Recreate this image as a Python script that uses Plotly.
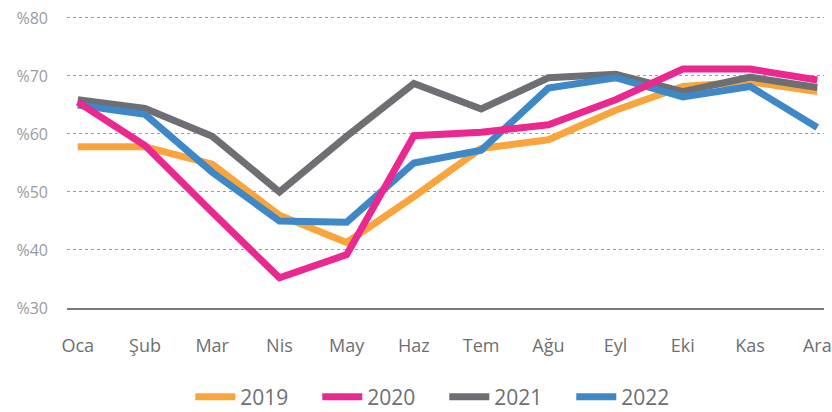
import plotly.graph_objects as go

months = ["Oca", "Şub", "Mar", "Nis", "May", "Haz", "Tem", "Ağu", "Eyl", "Eki", "Kas", "Ara"]
y2019 = [57.8, 57.8, 54.8, 46.0, 41.3, 49.2, 57.5, 59.0, 64.1, 68.2, 69.0, 67.3]
y2020 = [65.5, 58.0, 46.5, 35.2, 39.2, 59.7, 60.3, 61.6, 65.9, 71.2, 71.2, 69.3]
y2021 = [65.9, 64.4, 59.6, 50.0, 59.6, 68.7, 64.3, 69.7, 70.3, 67.3, 69.8, 68.0]
y2022 = [65.0, 63.4, 53.4, 45.0, 44.8, 55.0, 57.2, 67.9, 69.7, 66.4, 68.2, 61.1]
ytick_vals = [30, 40, 50, 60, 70, 80]
ytick_text = ["%30", "%40", "%50", "%60", "%70", "%80"]
years = ["2019", "2020", "2021", "2022"]
colors = {"2019": "#F9A53B", "2020": "#EA288F", "2021": "#6D6F72", "2022": "#3F88C8"}
series = {"2019": y2019, "2020": y2020, "2021": y2021, "2022": y2022}
draw_order = ["2019", "2021", "2022", "2020"]

fig = go.Figure()
for yr in draw_order:
    fig.add_trace(go.Scatter(
        x=months, y=series[yr], name=yr, mode="lines",
        line=dict(color=colors[yr], width=7),
        legendrank=years.index(yr) + 1,
        hoverinfo="skip",
    ))

fig.update_layout(
    width=832, height=412,
    margin=dict(l=67, r=0, t=16, b=104),
    paper_bgcolor="white", plot_bgcolor="white",
    font=dict(family="Open Sans", color="#6D6F72"),
    showlegend=True,
    legend=dict(
        orientation="h", xref="container", yref="container",
        x=0.534, xanchor="center", y=0.036, yanchor="middle",
        font=dict(size=21, color="#6D6F72"),
        entrywidth=72, itemwidth=40,
    ),
    xaxis=dict(
        type="category", range=[-0.16, 11.1],
        showgrid=False, zeroline=False,
        showline=True, linecolor="#7A7B7E", linewidth=2,
        ticks="", tickfont=dict(size=18, color="#6D6F72"),
        ticklabelstandoff=20,
    ),
    yaxis=dict(
        range=[30, 80.34], tickvals=ytick_vals, ticktext=ytick_text,
        showgrid=True, gridcolor="#9A9B9E", gridwidth=1.2, griddash="dot",
        zeroline=False, showline=False, ticks="",
        tickfont=dict(size=16, color="#9A9B9E"),
        ticklabelstandoff=18,
    ),
)

fig.write_html("out.html", config={"displayModeBar": False},
               post_script="document.body.style.margin='0';")
